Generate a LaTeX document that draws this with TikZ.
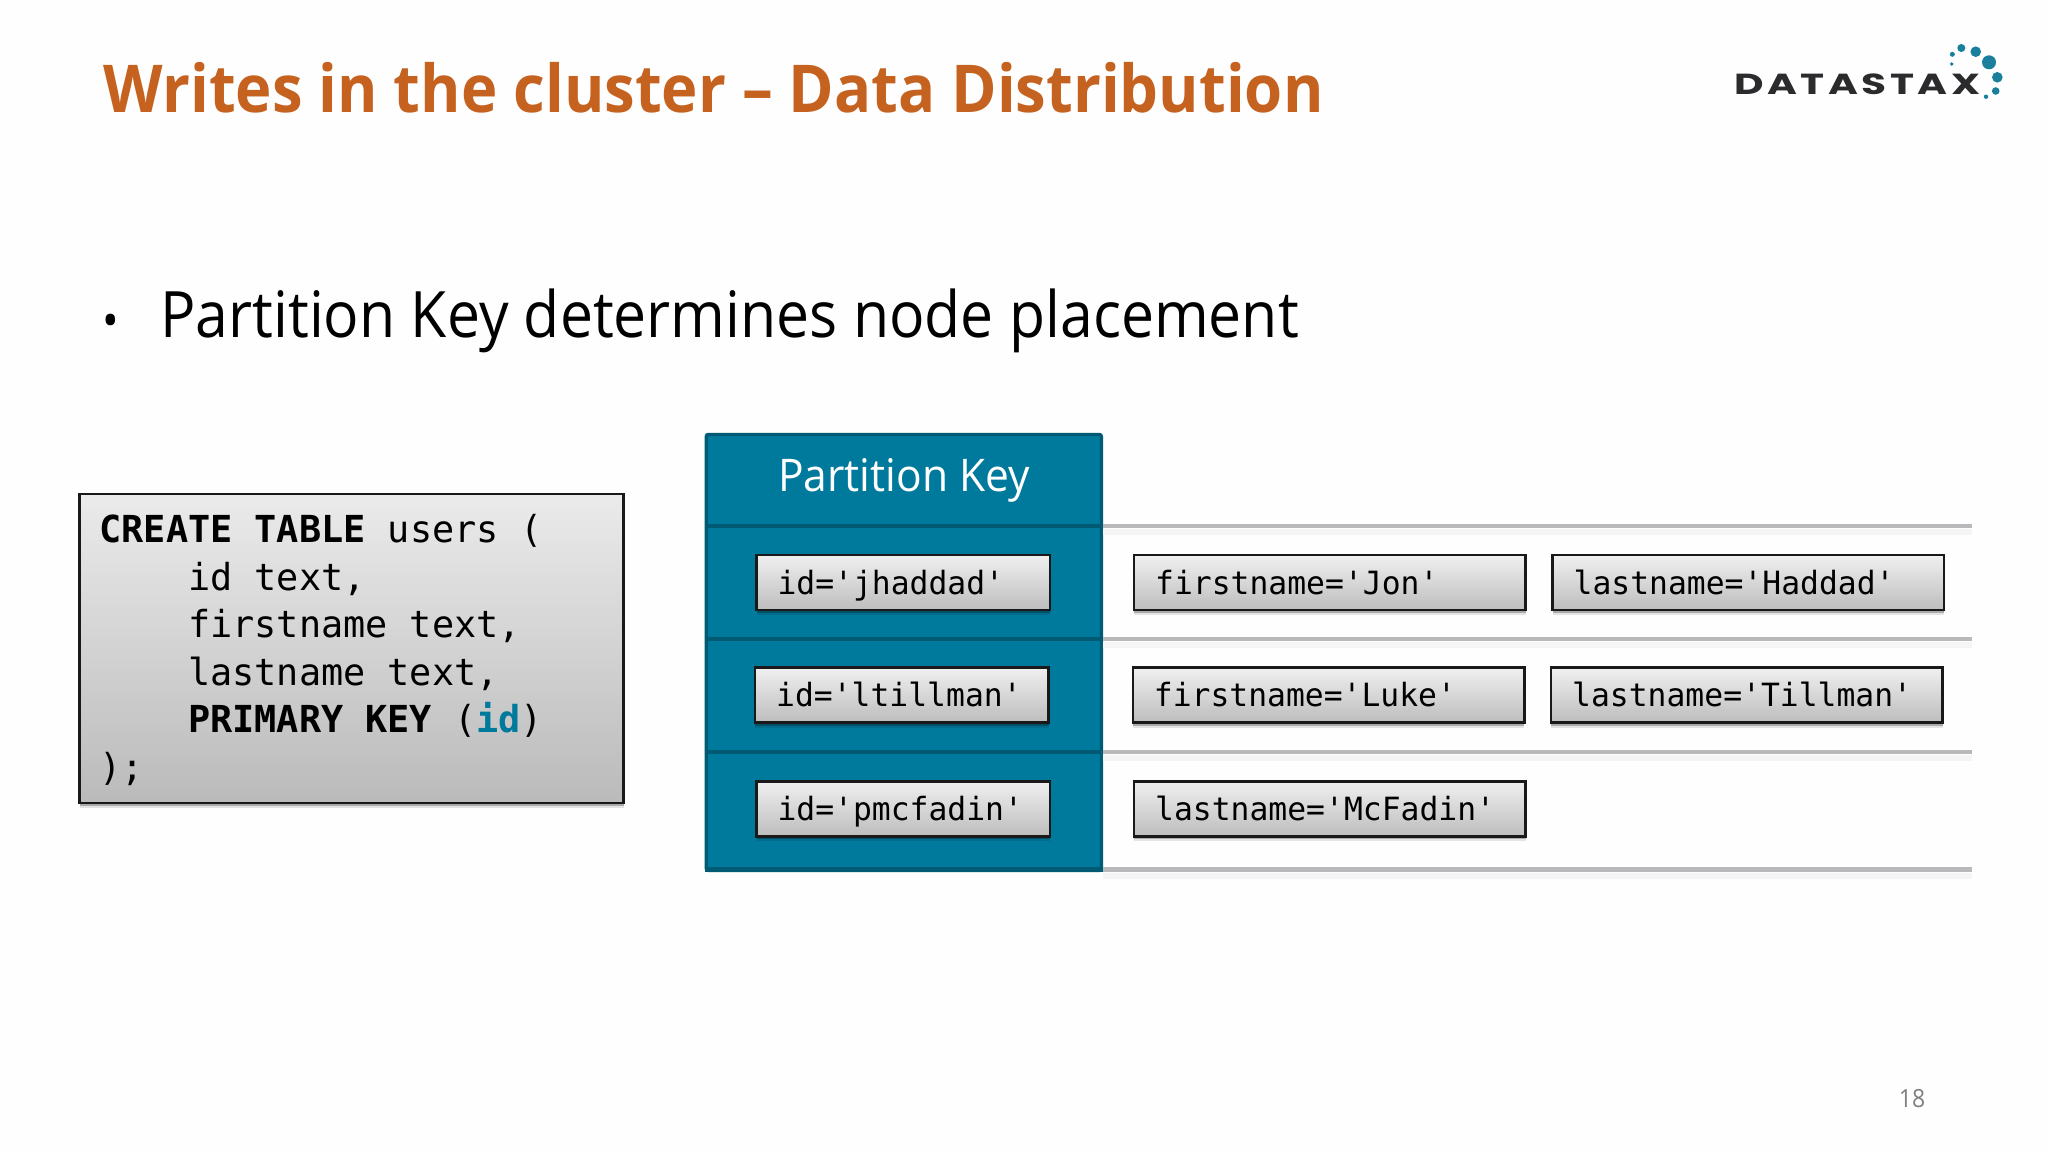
\documentclass[tikz,border=0pt]{standalone}
\usepackage{fontspec}
\usetikzlibrary{shadows,calc}
\setmainfont{Open Sans}
\newfontfamily\titlef[FakeStretch=0.933]{Open Sans}
\newfontfamily\lightf[FakeStretch=0.945]{Open Sans}
\newfontfamily\bodyf[FakeStretch=0.92]{Open Sans}
\newfontfamily\monof[FakeStretch=0.98]{DejaVu Sans Mono}
\newfontfamily\codef[FakeStretch=0.99]{DejaVu Sans Mono}
\newfontfamily\logof[FakeStretch=1.4,LetterSpace=12]{Poppins}
\definecolor{titleor}{HTML}{C6621F}
\definecolor{teal}{HTML}{007A9C}
\definecolor{tealdk}{HTML}{005A73}
\definecolor{linegr}{HTML}{B9B8BA}
\definecolor{shadowgr}{HTML}{F5F5F6}
\definecolor{logodot}{HTML}{1A7F9C}
\definecolor{logotx}{HTML}{2B2B2D}
\tikzset{
  softshadow/.style={drop shadow={shadow xshift=0pt,shadow yshift=-2.5pt,opacity=.1,fill=black},
                     drop shadow={shadow xshift=0pt,shadow yshift=-1.5pt,opacity=.25,fill=black}},
  valbox/.style={draw=black!90,line width=1.2pt,top color=black!6,bottom color=black!26,softshadow,
     anchor=north west,minimum width=195.7pt,minimum height=27.5pt,inner xsep=10.5pt,inner ysep=0pt,
     text width=174.7pt,align=left,text height=19.4pt,text depth=8.1pt,font=\monof\fontsize{16}{18}\selectfont},
  idbox/.style={valbox,minimum width=146.7pt,text width=125.7pt},
  sepline/.style={draw=linegr,line width=2.4pt},
  sepshade/.style={draw=shadowgr,line width=3pt},
  tealline/.style={draw=tealdk,line width=2.4pt},
  dot/.style={circle,fill=logodot,inner sep=0pt,draw=none}
}
\begin{document}
\begin{tikzpicture}[x=0.5pt,y=-0.5pt]
\useasboundingbox[fill=white!99.6!black] (0,0) rectangle (2048,1152);
% title
\node[anchor=base west,inner sep=0pt,text=titleor,font=\titlef\bfseries\fontsize{33}{36}\selectfont] (title) at (103,112.5)
  {Writes in the cluster – Data Distribution};
% logo
\node[anchor=base west,inner sep=0pt,text=logotx,font=\logof\bfseries\fontsize{14.5}{16}\selectfont] (logo) at (1734,94) {DATASTAX};
\foreach \n/\x/\y/\r in {a/1961.3/48/8,b/1975.7/51.7/10.6,c/1989/62.3/14,d/1997.3/77.3/10.6,e/1995.7/91/7.6,f/1986/96.7/4.4,g/1952.3/54.3/5,h/1951.7/64/3.6}
  \node[dot,minimum size=\r*0.5pt] (dot\n) at (\x,\y) {};
% bullet
\node[anchor=base west,inner sep=0pt,font=\bodyf\fontsize{24}{36}\selectfont] (bullet) at (102,337) {•};
\node[anchor=base west,inner sep=0pt,font=\bodyf\fontsize{32}{36}\selectfont] (head) at (160,337)
  {Partition Key determines node placement};
% code box
\node[draw=black!90,line width=1.2pt,top color=black!8,bottom color=black!27,softshadow,
      anchor=north west,minimum width=272pt,minimum height=154.5pt,inner sep=0pt] (codebox) at (78.4,493) {};
\node[inner sep=0pt,text width=252pt,align=left,yshift=-0.6pt,
      font=\codef\fontsize{18.6}{23.8}\selectfont] (code) at (codebox.center)
  {\spaceskip=0.596em\relax \textbf{CREATE TABLE} users (\\
   \phantom{xxxx}id text,\\
   \phantom{xxxx}firstname text,\\
   \phantom{xxxx}lastname text,\\
   \phantom{xxxx}\textbf{PRIMARY KEY} (\textbf{\textcolor{teal}{id}})\\
   );};
% teal panel
\node[draw=tealdk,line width=1.6pt,fill=teal,rounded corners=1pt,anchor=north west,
      minimum width=197.6pt,minimum height=218pt,inner sep=0pt] (panel) at (704.6,432.8) {};
\node[text=white,inner sep=0pt,font=\lightf\fontsize{22.5}{26}\selectfont,anchor=base] (pk) at (904,491) {Partition Key};
% rows
\coordinate (r1) at (1972,526);
\coordinate (r2) at (1972,639);
\coordinate (r3) at (1972,752);
\coordinate (r4) at (1972,869.5);
\foreach \r in {r1,r2,r3,r4}{
  \draw[sepshade] ($(\r -| panel.east)+(0,6)$) -- ($(\r)+(0,6)$);
  \draw[sepline] (\r -| panel.east) -- (\r);
  \draw[tealline] (\r -| panel.west) -- (\r -| panel.east);
}
% boxes
\node[idbox] (id1) at (755.3,554) {id='jhaddad'};
\node[valbox] (f1) at (1133,554) {firstname='Jon'};
\node[valbox] (l1) at (1551.4,554) {lastname='Haddad'};
\node[idbox] (id2) at (754,666.4) {id='ltillman'};
\node[valbox] (f2) at (1131.7,666.4) {firstname='Luke'};
\node[valbox] (l2) at (1550,666.4) {lastname='Tillman'};
\node[idbox] (id3) at (755.3,780.1) {id='pmcfadin'};
\node[valbox] (l3) at (1133,780.1) {lastname='McFadin'};
% page number
\node[text=black!50,inner sep=0pt,font=\bodyf\fontsize{12.5}{14}\selectfont] (pg) at (1912,1099) {18};
\end{tikzpicture}
\end{document}
